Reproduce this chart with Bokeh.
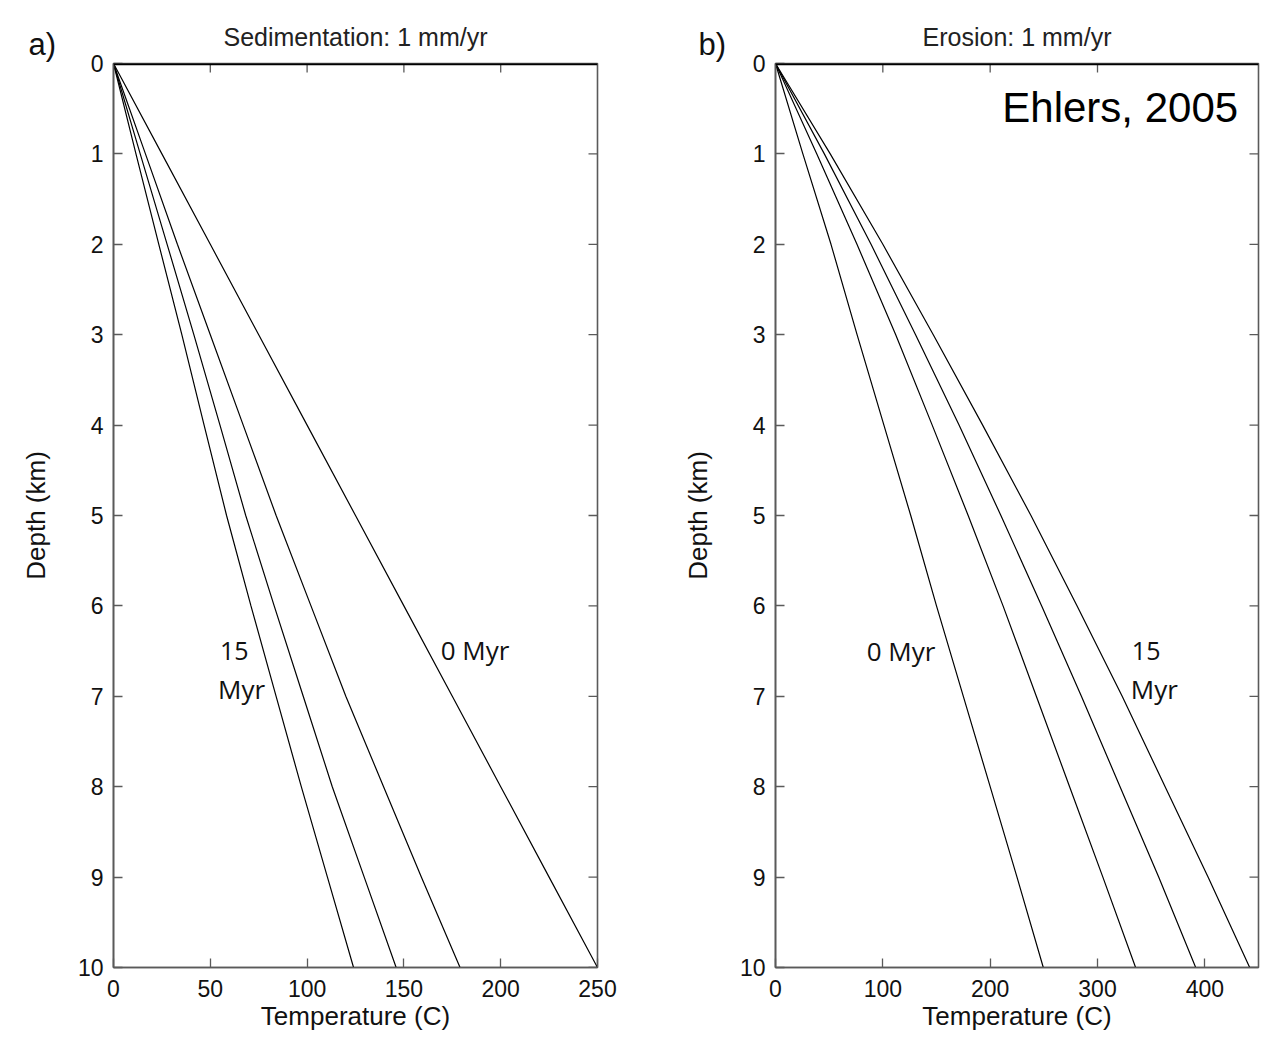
import math
from bokeh.plotting import figure
from bokeh.layouts import row
from bokeh.models import Range1d, LinearAxis, FixedTicker, Label, Span, Title
from bokeh.embed import file_html
from bokeh.resources import INLINE

# ---- data ----
depth_km = [0, 1, 2, 3, 4, 5, 6, 7, 8, 9, 10]

# a) Sedimentation 1 mm/yr : temperature (C) at each depth
sed_0myr = [0, 25, 50, 75, 100, 125, 150, 175, 200, 225, 250]
sed_t2 = [0, 16.5, 33, 50, 67, 84, 102, 120, 139.5, 159, 179]
sed_t3 = [0, 13.8, 27.7, 41.5, 55, 68.3, 83, 98, 113, 129.5, 146]
sed_15myr = [0, 11.6, 23.4, 35.3, 46.8, 58.4, 71, 84, 97, 110.5, 124]

# b) Erosion 1 mm/yr
ero_0myr = [0, 25.5, 51.7, 76, 101, 126, 150, 175, 200, 225, 249.5]
ero_t2 = [0, 38.5, 75.9, 112, 146, 179.5, 212, 243, 274, 305, 335.5]
ero_t3 = [0, 45.5, 89, 130.5, 171, 210, 248, 285, 321, 357, 391.5]
ero_15myr = [0, 51, 100, 147, 193, 238, 281, 323, 363, 403, 441.8]

sed_ticks = [0, 50, 100, 150, 200, 250]
ero_ticks = [0, 100, 200, 300, 400]
depth_ticks = [0, 1, 2, 3, 4, 5, 6, 7, 8, 9, 10]

FONT = "Liberation Sans"
ANNOT_FONT = "Open Sans"
GRAY = "#5a5a5a"
TXT = "#111111"


def make_panel(xmax, frame_w, xticks, series, letter, title, min_left, min_right,
               letter_offset):
    p = figure(frame_width=frame_w, frame_height=904,
               x_range=Range1d(0, xmax), y_range=Range1d(10, 0),
               output_backend="svg", toolbar_location=None,
               min_border_left=min_left, min_border_right=min_right,
               min_border_top=63, min_border_bottom=71,
               background_fill_color="white", border_fill_color="white")
    p.outline_line_color = GRAY
    p.outline_line_width = 1.6
    p.xgrid.visible = False
    p.ygrid.visible = False
    p.xaxis.visible = False
    p.yaxis.visible = False

    def style(ax, ticks):
        ax.ticker = FixedTicker(ticks=ticks)
        ax.major_tick_in = 9
        ax.major_tick_out = 0
        ax.minor_tick_line_color = None
        ax.axis_line_color = GRAY
        ax.axis_line_width = 1.6
        ax.major_tick_line_color = GRAY
        ax.major_tick_line_width = 1.3
        ax.major_label_text_font = FONT
        ax.major_label_text_color = TXT
        ax.major_label_text_font_size = "23px"
        ax.axis_label_text_font = FONT
        ax.axis_label_text_font_size = "26px"
        ax.axis_label_text_font_style = "normal"
        ax.axis_label_text_color = TXT

    bottom = LinearAxis(axis_label="Temperature (C)")
    style(bottom, xticks)
    bottom.major_label_standoff = 12
    bottom.axis_label_standoff = 1
    p.add_layout(bottom, "below")

    left = LinearAxis(axis_label="Depth (km)")
    style(left, depth_ticks)
    left.major_label_standoff = 10
    left.axis_label_standoff = 24
    p.add_layout(left, "left")

    # thicker black top edge
    p.add_layout(Span(location=0, dimension="width", line_color="black",
                      line_width=3.5))

    # mirrored inward ticks on the top and right edges
    inner = xticks[1:-1]
    p.scatter(x=inner, y=[0] * len(inner), marker="dash", size=18,
              angle=math.pi / 2, line_color=GRAY, line_width=1.3)
    p.scatter(x=[xmax] * len(depth_ticks), y=depth_ticks, marker="dash", size=18,
              line_color=GRAY, line_width=1.3)

    for s in series:
        p.line(s, depth_km, line_color="black", line_width=1.2)

    p.add_layout(Title(text=title, align="center", text_font=FONT,
                       text_font_size="25px", text_font_style="normal",
                       text_color="#222222", standoff=26), "above")
    p.add_layout(Title(text=letter, align="left", offset=letter_offset,
                       text_font=FONT, text_font_size="31px",
                       text_font_style="normal", text_color=TXT,
                       standoff=-108), "above")
    return p


p1 = make_panel(250, 484, sed_ticks, [sed_0myr, sed_t2, sed_t3, sed_15myr],
                "a)", "Sedimentation: 1 mm/yr", 113, 50, -85)
p2 = make_panel(450, 483, ero_ticks, [ero_0myr, ero_t2, ero_t3, ero_15myr],
                "b)", "Erosion: 1 mm/yr", 128, 5, -77)

annot = dict(text_font=ANNOT_FONT, text_color=TXT,
             text_align="left", text_baseline="middle")
p1.add_layout(Label(x=55, y=6.5, text="15", text_font_size="25px", **annot))
p1.add_layout(Label(x=54, y=6.92, text="Myr", text_font_size="26px", **annot))
p1.add_layout(Label(x=169, y=6.49, text="0 Myr", text_font_size="26px", **annot))
p2.add_layout(Label(x=85, y=6.5, text="0 Myr", text_font_size="26px", **annot))
p2.add_layout(Label(x=332, y=6.5, text="15", text_font_size="25px", **annot))
p2.add_layout(Label(x=331, y=6.92, text="Myr", text_font_size="26px", **annot))
p2.add_layout(Label(x=431, y=0.49, text="Ehlers, 2005", text_font=FONT,
                    text_font_size="42px", text_color="black",
                    text_align="right", text_baseline="middle"))

layout = row(p1, p2)
open("out.html", "w").write(file_html(layout, INLINE))
